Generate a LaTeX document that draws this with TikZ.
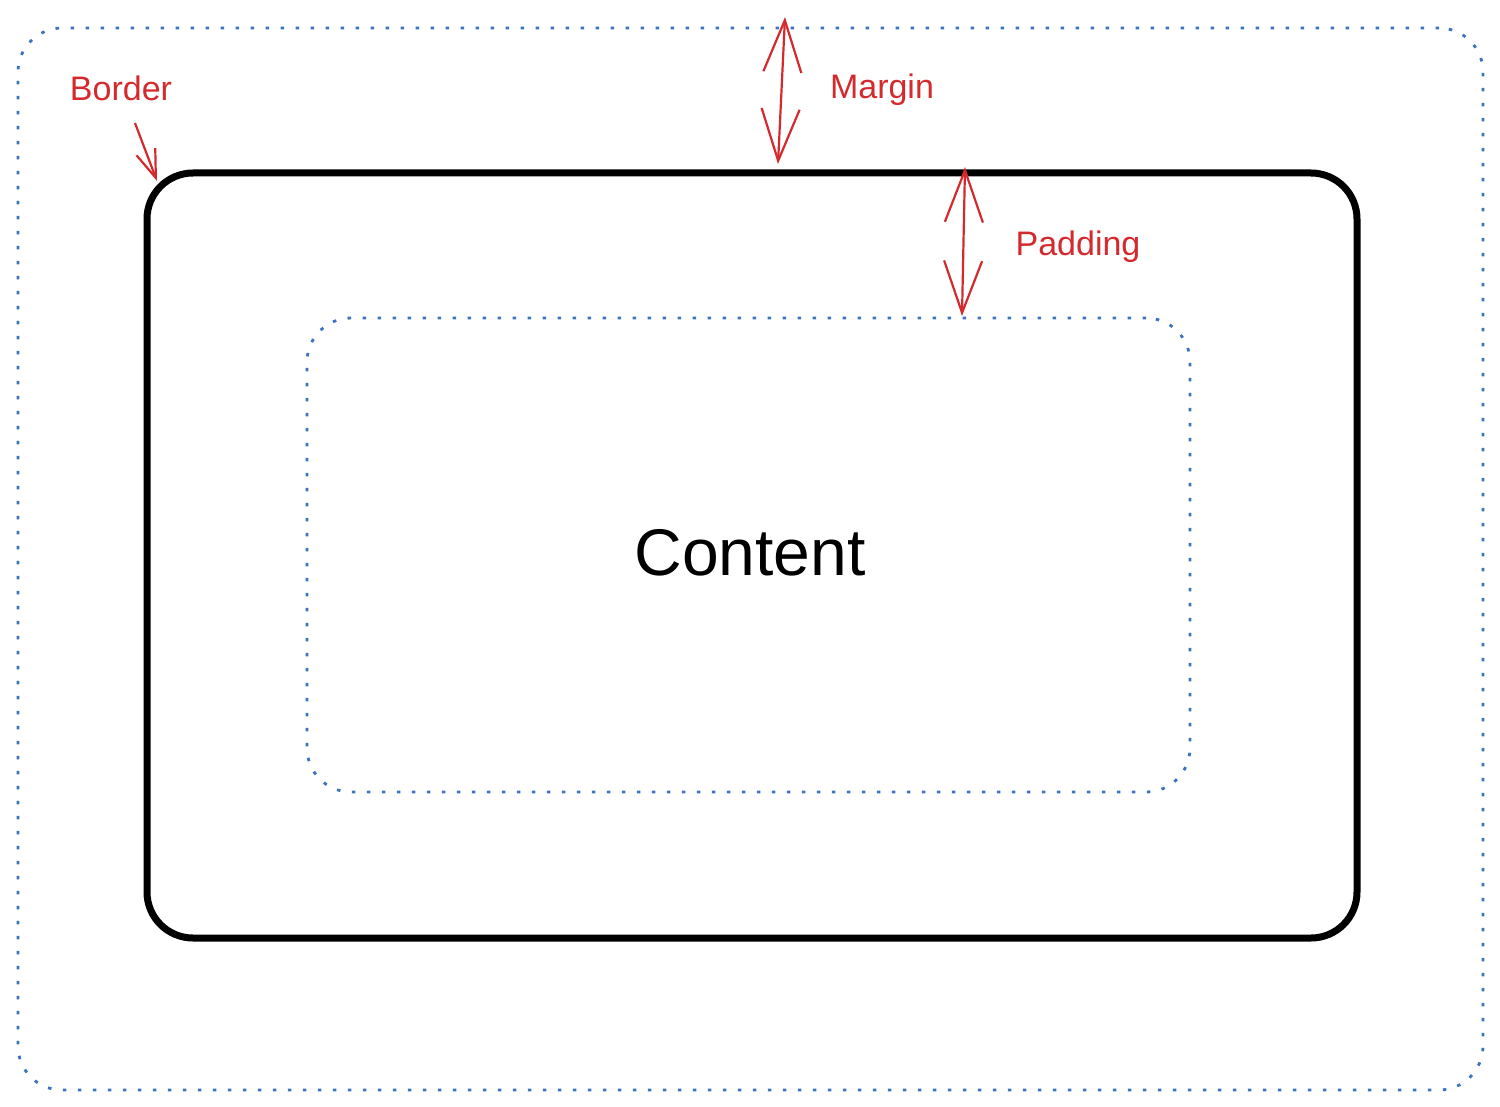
\documentclass[tikz,border=0pt]{standalone}
\usepackage{fontspec}
\setmainfont{Liberation Sans}
\usetikzlibrary{arrows.meta}
\definecolor{dotblue}{HTML}{3B73BE}
\definecolor{annred}{HTML}{D42A2E}
\tikzset{
  dotbox/.style={draw=dotblue, line width=2.8pt, dash pattern=on 3.5pt off 11.5pt, rounded corners=44pt, inner sep=0pt},
  borderbox/.style={draw=black, line width=7pt, rounded corners=46pt, inner sep=0pt},
  annlabel/.style={text=annred, font=\fontsize{34}{40}\selectfont, inner sep=0pt},
  annarrow/.style={draw=annred, line width=2.2pt, {Straight Barb[length=52pt,width=38pt,line width=2.2pt]}-{Straight Barb[length=52pt,width=38pt,line width=2.2pt]}},
  annone/.style={draw=annred, line width=2.2pt, -{Straight Barb[length=28pt,width=20pt,line width=2.2pt]}}
}
\begin{document}
\begin{tikzpicture}[x=1pt,y=-1pt]
\useasboundingbox (0,0) rectangle (1500,1107);
\node[dotbox, minimum width=1465pt, minimum height=1062pt] (margin) at (750.5,559) {};
\node[borderbox, minimum width=1210pt, minimum height=765pt] (border) at (752,555.5) {};
\node[dotbox, minimum width=883pt, minimum height=474pt] (content) at (748.5,555) {};
\node[font=\fontsize{66}{72}\selectfont, inner sep=0pt] (ctext) at (750,553) {Content};
\coordinate (mtop) at (785,17);
\coordinate (mbot) at (778,164);
\draw[annarrow] (mtop) -- (mbot);
\node[annlabel] (mlabel) at (882,90) {Margin};
\coordinate (ptop) at (965,167);
\coordinate (pbot) at (962,316);
\draw[annarrow] (ptop) -- (pbot);
\node[annlabel] (plabel) at (1078,247) {Padding};
\node[annlabel] (blabel) at (121,88) {Border};
\coordinate (bstart) at (135,123);
\coordinate (bend) at (157,181);
\draw[annone] (bstart) -- (bend);
\end{tikzpicture}
\end{document}
